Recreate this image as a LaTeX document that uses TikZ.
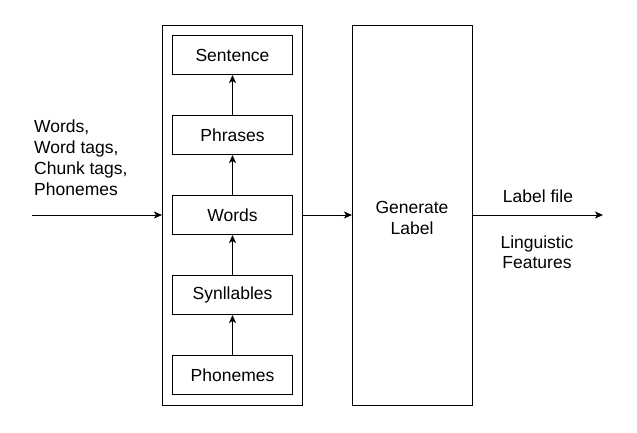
\documentclass[tikz,border=0pt]{standalone}
\usepackage{fontspec}
\setmainfont{Liberation Sans}
\usetikzlibrary{arrows.meta}
\begin{document}
\begin{tikzpicture}[x=1pt,y=-1pt,
  every node/.style={font=\fontsize{17.5}{20.5}\selectfont},
  box/.style={draw,line width=1pt,minimum width=120pt,minimum height=39pt,inner sep=0pt,anchor=north west},
  big/.style={draw,line width=1pt,inner sep=0pt,anchor=north west},
  arr/.style={line width=1pt,-{Stealth[length=8pt,width=7pt,inset=2pt]}},
  lbl/.style={align=left,inner sep=0pt}]
\useasboundingbox (0,0) rectangle (637,432);
\node[big,minimum width=140pt,minimum height=380pt] (outer) at (162,25) {};
\node[big,minimum width=120pt,minimum height=380pt,align=center] (gen) at (352,25) {};
\node[align=center,inner sep=0pt] (gentext) at (412,218) {Generate\\Label};
\node[box] (sent) at (172,35) {};
\node at (sent.center) {Sentence};
\node[box] (phr) at (172,115) {};
\node at (phr.center) {Phrases};
\node[box] (wrd) at (172,195) {};
\node at (wrd.center) {Words};
\node[box] (syl) at (172,275) {};
\node at (syl.center) {Synllables};
\node[box] (pho) at (172,355) {};
\node at (pho.center) {Phonemes};
\draw[arr] (pho.north) -- (syl.south);
\draw[arr] (syl.north) -- (wrd.south);
\draw[arr] (wrd.north) -- (phr.south);
\draw[arr] (phr.north) -- (sent.south);
\coordinate (in) at (32,215);
\coordinate (out) at (603,215);
\draw[arr] (in) -- (in -| outer.west);
\draw[arr] (outer.east |- in) -- (gen.west |- in);
\draw[arr] (gen.east |- in) -- (out);
\node[lbl,anchor=north west,font=\fontsize{17.5}{21}\selectfont] (intext) at (34,120) {Words,\\Word tags,\\Chunk tags,\\Phonemes};
\node (lf) at (538,196) {Label file};
\node[align=center,font=\fontsize{17.5}{20}\selectfont] (lingf) at (537,252) {Linguistic\\Features};
\end{tikzpicture}
\end{document}
